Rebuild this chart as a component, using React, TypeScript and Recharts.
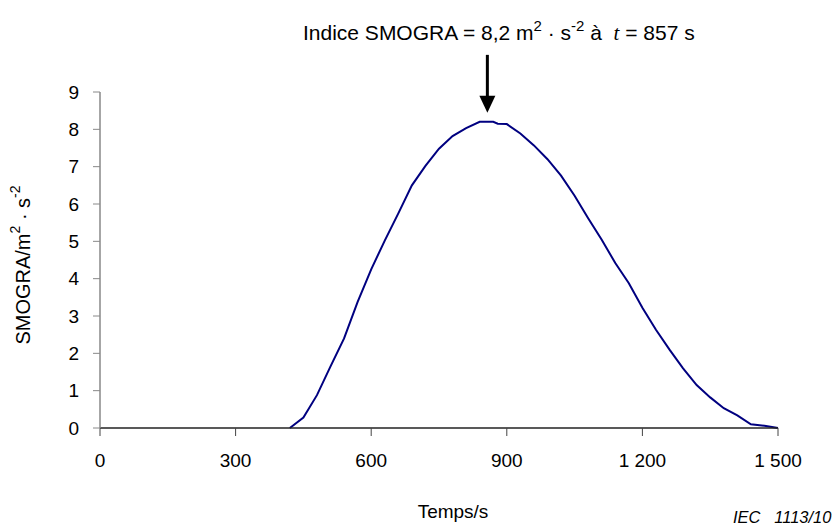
import { LineChart, Line, XAxis, YAxis, ReferenceDot, Label } from "recharts";

const temps = [
  420, 450, 480, 510, 540, 570, 600, 630, 660, 690, 720, 750, 780, 810, 840, 857, 870, 880, 900, 930,
  960, 990, 1020, 1050, 1080, 1110, 1140, 1170, 1200, 1230, 1260, 1290, 1320, 1350, 1380, 1410,
  1440, 1470, 1500,
];
const smogra = [
  0, 0.28, 0.88, 1.65, 2.4, 3.38, 4.25, 5.02, 5.75, 6.5, 7.02, 7.48, 7.82, 8.03, 8.2, 8.2, 8.2, 8.15,
  8.14, 7.89, 7.57, 7.2, 6.76, 6.22, 5.62, 5.04, 4.42, 3.88, 3.22, 2.63, 2.1, 1.6, 1.15, 0.82, 0.53,
  0.34, 0.1, 0.06, 0,
];
const xTicks = [0, 300, 600, 900, 1200, 1500];
const yTicks = [0, 1, 2, 3, 4, 5, 6, 7, 8, 9];

const peakT = 857;
const peakV = 8.2;

const font = "'Liberation Sans', Arial, sans-serif";

const chartData = temps.map((t, i) => ({ t, v: smogra[i] }));

// thousands with a space: 1 200
const fmtX = (v: number) => (v >= 1000 ? `${Math.floor(v / 1000)} ${String(v % 1000).padStart(3, "0")}` : String(v));

function PeakArrow(props: any) {
  const { cx, cy } = props;
  if (cx == null || cy == null) return null;
  const tipY = cy - 9;
  const topY = cy - 67;
  return (
    <g>
      <line x1={cx} y1={topY} x2={cx} y2={tipY - 14} stroke="#000" strokeWidth={3} />
      <polygon points={`${cx - 8},${tipY - 17} ${cx + 8},${tipY - 17} ${cx},${tipY}`} fill="#000" />
      <text x={303} y={cy - 82} fontFamily={font} fontSize={21} fill="#000" style={{ whiteSpace: "pre" }}>
        Indice SMOGRA = 8,2 m
        <tspan dy={-9} fontSize={15}>2</tspan>
        <tspan dy={9}> · s</tspan>
        <tspan dy={-9} fontSize={15}>-2</tspan>
        <tspan dy={9}> à  </tspan>
        <tspan fontStyle="italic" fontFamily="'Liberation Serif', 'Times New Roman', serif">t</tspan>
        <tspan> = 857 s</tspan>
      </text>
    </g>
  );
}

function YTitle(props: any) {
  const { viewBox } = props;
  const cx = 23;
  const cy = viewBox.y + viewBox.height / 2 + 5;
  return (
    <text
      x={cx}
      y={cy}
      transform={`rotate(-90 ${cx} ${cy})`}
      textAnchor="middle"
      dominantBaseline="central"
      fontFamily={font}
      fontSize={20}
      fill="#000"
    >
      SMOGRA/m
      <tspan dy={-8} fontSize={14}>2</tspan>
      <tspan dy={8}> · s</tspan>
      <tspan dy={-8} fontSize={14}>-2</tspan>
    </text>
  );
}

export default function App() {
  return (
    <div style={{ position: "absolute", left: 0, top: 0, width: 837, height: 529, background: "#fff" }}>
      <LineChart width={837} height={529} data={chartData} margin={{ top: 92, right: 59, left: 40, bottom: 0 }}>
        <XAxis
          dataKey="t"
          type="number"
          domain={[0, 1500]}
          ticks={xTicks}
          tickFormatter={fmtX}
          height={101}
          tickSize={8}
          tickMargin={18}
          axisLine={{ stroke: "#222", strokeWidth: 1.5 }}
          tickLine={{ stroke: "#444" }}
          tick={{ fill: "#000", fontSize: 19, fontFamily: font }}
        >
          <Label value="Temps/s" position="insideBottom" offset={11} fill="#000" fontSize={19} fontFamily={font} dx={14} />
        </XAxis>
        <YAxis
          type="number"
          domain={[0, 9]}
          ticks={yTicks}
          width={60}
          tickSize={7}
          tickMargin={14}
          axisLine={{ stroke: "#888", strokeWidth: 1.5 }}
          tickLine={{ stroke: "#888" }}
          tick={{ fill: "#000", fontSize: 19, fontFamily: font }}
          label={<YTitle />}
        />
        <Line
          type="linear"
          dataKey="v"
          stroke="#000080"
          strokeWidth={2}
          dot={false}
          isAnimationActive={false}
        />
        <ReferenceDot x={peakT} y={peakV} r={0} shape={<PeakArrow />} />
      </LineChart>
      <div
        style={{
          position: "absolute",
          left: 733,
          top: 508,
          fontFamily: font,
          fontStyle: "italic",
          fontSize: 16.5,
          whiteSpace: "pre",
        }}
      >
        IEC   1113/10
      </div>
    </div>
  );
}
